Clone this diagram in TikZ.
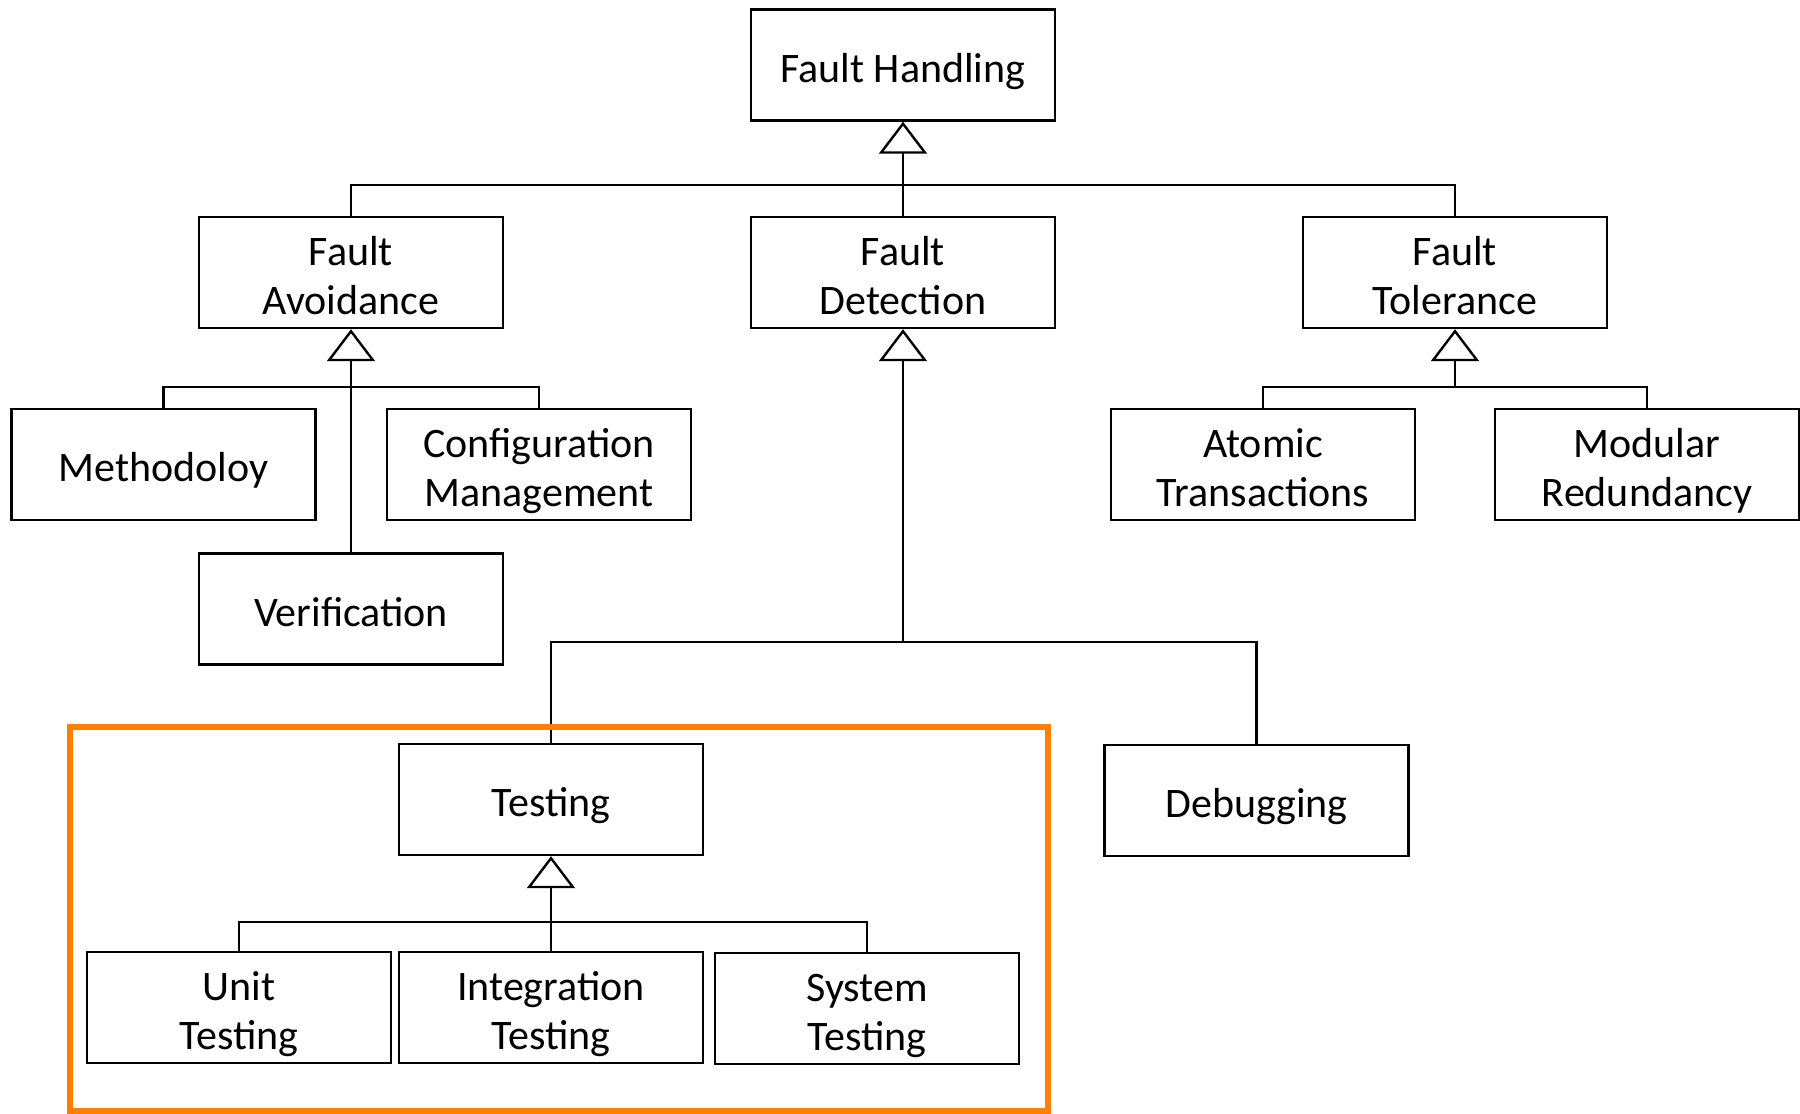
\documentclass[tikz,border=0pt]{standalone}
\usepackage{fontspec}
\setmainfont{Carlito}
\usetikzlibrary{arrows.meta}
% fixed height for the first line and fixed depth for the last line of a box
\newcommand\hstr{\rule{0pt}{22pt}}
\newcommand\dstr{\rule[-4.8pt]{0pt}{4.8pt}}
\begin{document}
\begin{tikzpicture}[x=0.5pt,y=-0.5pt,
  box/.style={draw=black,line width=1.2pt,rectangle,inner sep=0pt,
    minimum width=152pt,minimum height=55.5pt,align=center,
    font=\fontsize{21}{24.5}\selectfont},
  onebox/.style={box,text height=20pt,text depth=2.8pt},
  link/.style={draw=black,line width=1.2pt},
  gen/.style={link,-{Triangle[open,length=16pt,width=24pt,line width=1.2pt]}},
  frame/.style={draw={rgb,255:red,255;green,127;blue,0},line width=2.8pt}]
\useasboundingbox (0,0) rectangle (1800,1114);

% class boxes
\node[onebox] (fh)   at (903,65)    {Fault Handling};
\node[box] (fa)   at (351,272.5) {\hstr Fault\\Avoidance\dstr};
\node[box] (fd)   at (903,272.5) {\hstr Fault\\Detection\dstr};
\node[box] (ft)   at (1455,272.5){\hstr Fault\\Tolerance\dstr};
\node[onebox] (meth) at (163.5,464.5) {Methodoloy};
\node[box] (cm)   at (539,464.5) {\hstr Configuration\\Management\dstr};
\node[onebox] (ver)  at (351,609)   {Verification};
\node[box] (at)   at (1263,464.5){\hstr Atomic\\Transactions\dstr};
\node[box] (mr)   at (1647,464.5){\hstr Modular\\Redundancy\dstr};
\node[onebox] (test) at (551,799.5) {Testing};
\node[onebox] (dbg)  at (1256.5,800.5) {Debugging};
\node[box] (unit) at (239,1007.5) {\hstr Unit\\Testing\dstr};
\node[box] (int)  at (551,1007.5) {\hstr Integration\\Testing\dstr};
\node[box] (sys)  at (867,1008.5) {\hstr System\\Testing\dstr};

% bus junctions
\coordinate (bfh) at (903,185);
\coordinate (bfa) at (351,387);
\coordinate (bft) at (1455,387);
\coordinate (bfd) at (903,642);
\coordinate (bts) at (551,922);

% generalisation links
\draw[gen] (fd.north) -- (fh.south);
\draw[link] (fa.north) |- (bfh) -| (ft.north);

\draw[gen] (ver.north) -- (fa.south);
\draw[link] (meth.north) |- (bfa) -| (cm.north);

\draw[gen] (bft) -- (ft.south);
\draw[link] (at.north) |- (bft) -| (mr.north);

\draw[gen] (bfd) -- (fd.south);
\draw[link] (test.north) |- (bfd) -| (dbg.north);

\draw[gen] (int.north) -- (test.south);
\draw[link] (unit.north) |- (bts) -| (sys.north);

% highlight frame around the testing group
\draw[frame] (70,727) rectangle (1048,1111);
\end{tikzpicture}
\end{document}
